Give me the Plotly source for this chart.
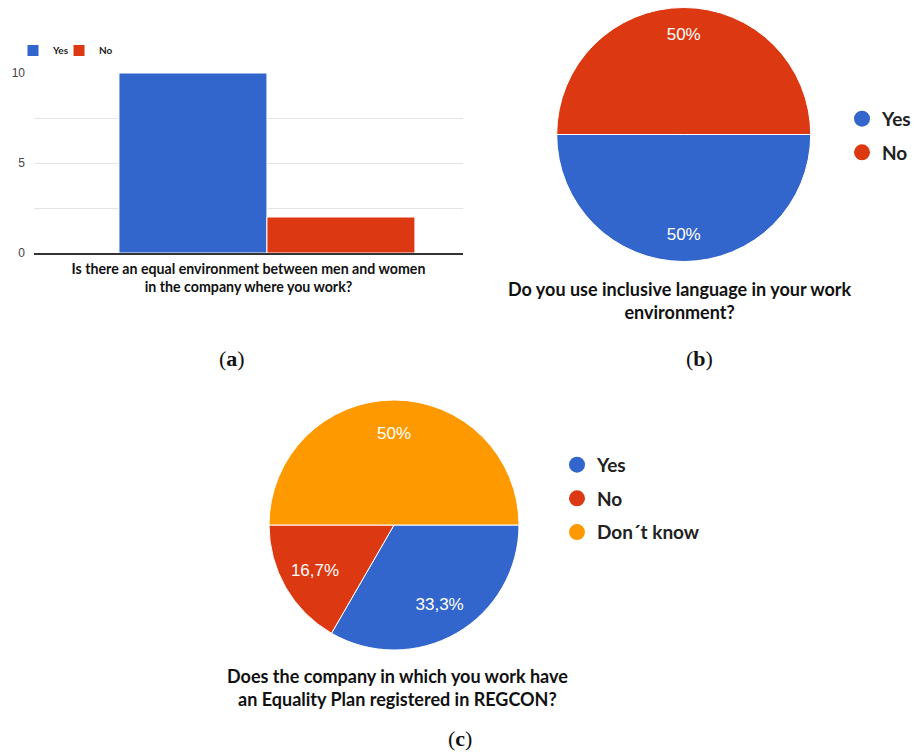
import plotly.graph_objects as go

# ---- data ----
bar_categories = ["Yes", "No"]
bar_values = [10, 2]
bar_question = "Is there an equal environment between men and women<br>in the company where you work?"

pie_b_labels = ["Yes", "No"]
pie_b_values = [6, 6]
pie_b_question = "Do you use inclusive language in your work<br>environment?"

pie_c_labels = ["Yes", "No", "Don\u00b4t know"]
pie_c_values = [4, 2, 6]
pie_c_question = "Does the company in which you work have<br>an Equality Plan registered in REGCON?"

panel_labels = ["(<b>a</b>)", "(<b>b</b>)", "(<b>c</b>)"]

colors = {"Yes": "#3366CC", "No": "#DC3912", "Don\u00b4t know": "#FF9900"}

W, H = 916, 753
def px(x):
    return x / W
def py(y):
    return 1 - y / H

TXT_FONT = "Lato, Open Sans, sans-serif"
PCT_FONT = dict(color="white", size=17, family="Liberation Sans, Arial")
fig = go.Figure()

# ---- (a) bar chart ----
bar_legends = ["legend", "legend4"]
for cat, val, lg in zip(bar_categories, bar_values, bar_legends):
    fig.add_trace(go.Bar(
        x=[0], y=[val], name=cat, marker=dict(color=colors[cat], line=dict(color="white", width=1)),
        xaxis="x", yaxis="y", legend=lg, showlegend=True, hoverinfo="y+name"))


def add_pie(labels, values, domain, label_hole):
    # filled pie with separators
    fig.add_trace(go.Pie(
        labels=labels, values=values, sort=False, direction="clockwise", rotation=90,
        marker=dict(colors=[colors[l] for l in labels], line=dict(color="white", width=1)),
        textinfo="none", domain=domain, showlegend=False))
    # transparent ring layer carrying the percentage labels (places them towards the rim)
    fig.add_trace(go.Pie(
        labels=labels, values=values, sort=False, direction="clockwise", rotation=90, hole=label_hole,
        marker=dict(colors=["rgba(0,0,0,0)"] * len(labels), line=dict(width=0)),
        textinfo="percent", textposition="inside", insidetextorientation="horizontal",
        textfont=PCT_FONT, domain=domain, showlegend=False, hoverinfo="skip"))


add_pie(pie_b_labels, pie_b_values, dict(x=[px(556.7), px(810.7)], y=[py(261.5), py(7.5)]), 0.58)
add_pie(pie_c_labels, pie_c_values, dict(x=[px(269), px(519)], y=[py(650), py(400)]), 0.46)

# ---- legend proxies (circle markers) for pies ----
for i, lab in enumerate(pie_b_labels):
    fig.add_trace(go.Scatter(x=[None], y=[None], mode="markers", name=lab,
                             marker=dict(color=colors[lab], size=16, symbol="circle"),
                             xaxis="x2", yaxis="y2", legend="legend2", legendgroup="b" + str(i),
                             showlegend=True))
for i, lab in enumerate(pie_c_labels):
    fig.add_trace(go.Scatter(x=[None], y=[None], mode="markers", name=lab,
                             marker=dict(color=colors[lab], size=16, symbol="circle"),
                             xaxis="x2", yaxis="y2", legend="legend3", legendgroup="c" + str(i),
                             showlegend=True))

annotations = [
    dict(text=pie_b_question, x=px(680), y=py(300.5), xref="paper", yref="paper",
         showarrow=False, xanchor="center", yanchor="middle",
         font=dict(family=TXT_FONT, size=18, color="#111", weight="bold"), align="center"),
    dict(text=pie_c_question, x=px(397), y=py(687), xref="paper", yref="paper",
         showarrow=False, xanchor="center", yanchor="middle",
         font=dict(family=TXT_FONT, size=18, color="#111", weight="bold"), align="center"),
]
for lab, (x, y) in zip(panel_labels, [(232, 358), (699, 358), (460, 738)]):
    annotations.append(dict(text=lab, x=px(x), y=py(y), xref="paper", yref="paper",
                            showarrow=False, xanchor="center", yanchor="middle",
                            font=dict(family="Liberation Serif, DejaVu Serif, serif", size=22, color="#111")))

bar_legend_style = dict(orientation="h", y=py(36), xanchor="left", yanchor="top",
                        font=dict(family=TXT_FONT, size=10, color="#222", weight="bold"),
                        bgcolor="rgba(0,0,0,0)", itemclick=False)

fig.update_layout(
    width=W, height=H, margin=dict(l=0, r=0, t=0, b=0, autoexpand=False),
    paper_bgcolor="white", plot_bgcolor="white",
    separators=",.",
    barmode="group", bargap=0.31, bargroupgap=0,
    xaxis=dict(domain=[px(34), px(463)], range=[-0.543, 0.457], showticklabels=False,
               showgrid=False, zeroline=False, showline=True, linecolor="#333", linewidth=1.5,
               ticks="", fixedrange=True, automargin=False,
               title=dict(text="<b>" + bar_question + "</b>", standoff=10,
                          font=dict(family=TXT_FONT, size=14.2, color="#111"))),
    yaxis=dict(domain=[py(253), py(73)], range=[0, 10], tickvals=[0, 5, 10], ticktext=["0", "5", "10"],
               showgrid=True, gridcolor="#e4e4e4", gridwidth=1, zeroline=False, ticks="",
               ticklabelstandoff=8, automargin=False,
               minor=dict(tickvals=[2.5, 7.5], showgrid=True, gridcolor="#e4e4e4", gridwidth=1),
               tickfont=dict(family="Liberation Sans, Arial", size=12, color="#444")),
    xaxis2=dict(domain=[0, 0.01], visible=False),
    yaxis2=dict(domain=[0, 0.01], visible=False),
    legend=dict(x=px(13), **bar_legend_style),
    legend4=dict(x=px(59), **bar_legend_style),
    legend2=dict(orientation="v", x=px(842), y=py(99.8), xanchor="left", yanchor="top",
                 font=dict(family=TXT_FONT, size=19, color="#222", weight="bold"),
                 tracegroupgap=6, bgcolor="rgba(0,0,0,0)"),
    legend3=dict(orientation="v", x=px(557), y=py(445.8), xanchor="left", yanchor="top",
                 font=dict(family=TXT_FONT, size=19, color="#222", weight="bold"),
                 tracegroupgap=6, bgcolor="rgba(0,0,0,0)"),
    annotations=annotations,
)

fig.write_html("out.html")
